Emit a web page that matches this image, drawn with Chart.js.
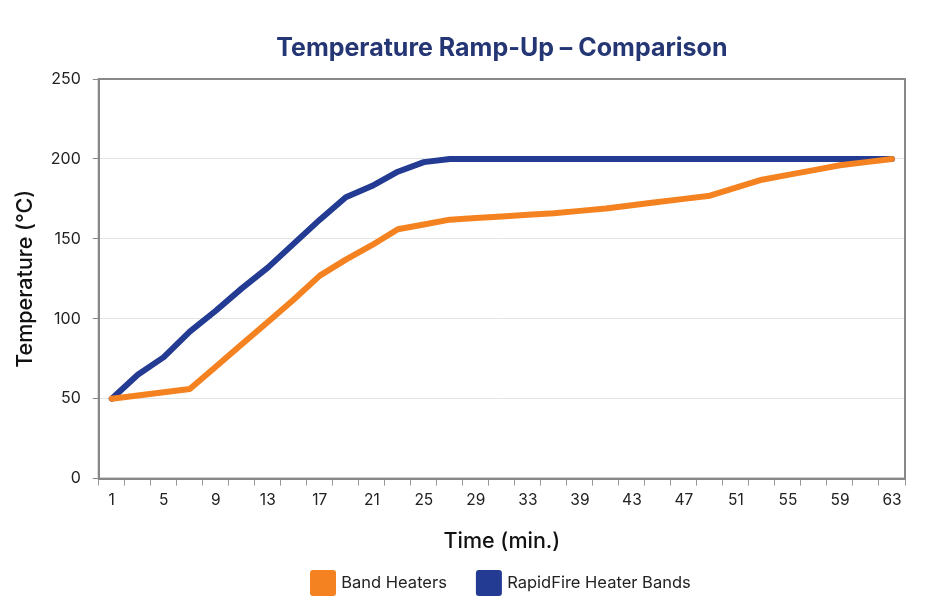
<!DOCTYPE html>
<html>
<head>
<meta charset="utf-8">
<script src="https://cdn.jsdelivr.net/npm/chart.js@4"></script>
<style>
html,body{margin:0;padding:0;background:#fff;}
#wrap{width:930px;height:600px;}
</style>
</head>
<body>
<div id="wrap"><canvas id="c" width="930" height="600"></canvas></div>
<script>
const categories = [1,3,5,7,9,11,13,15,17,19,21,23,25,27,29,31,33,36,39,41,43,45,47,49,51,53,55,57,59,61,63];
const bandHeaters = [50,52,54,56,70,84,98,112,127,137,146,156,159,162,163,164,165,166,167.5,169,171,173,175,177,182,187,190,193,196,198,200];
const rapidFire = [50,65,76,92,105,119,132,147,162,176,183,192,198,200,200,200,200,200,200,200,200,200,200,200,200,200,200,200,200,200,200];
const yTicks = [0,50,100,150,200,250];

const FONT = "Inter, 'Open Sans', sans-serif";

const borderPlugin = {
  id: 'box',
  afterDraw(chart){
    const a = chart.chartArea, ctx = chart.ctx;
    ctx.save();
    ctx.strokeStyle = '#888';
    ctx.lineWidth = 2;
    ctx.strokeRect(a.left, a.top, a.right - a.left, a.bottom - a.top);
    ctx.restore();
  }
};

new Chart(document.getElementById('c'), {
  type: 'line',
  data: {
    labels: categories.map(String),
    datasets: [
      {label:'Band Heaters', data: bandHeaters, borderColor:'#F58220', backgroundColor:'#F58220', borderWidth:6, pointRadius:0, tension:0, borderCapStyle:'round', borderJoinStyle:'round'},
      {label:'RapidFire Heater Bands', data: rapidFire, borderColor:'#233B92', backgroundColor:'#233B92', borderWidth:6, pointRadius:0, tension:0, borderCapStyle:'round', borderJoinStyle:'round'}
    ]
  },
  options: {
    responsive:false,
    animation:false,
    devicePixelRatio:1,
    layout:{padding:{left:13,right:25,top:20,bottom:-3}},
    plugins:{
      title:{display:true, text:'Temperature Ramp-Up – Comparison', color:'#243673', fullSize:false,
        font:{family:FONT, size:25, weight:'bold'}, padding:{top:13,bottom:16}},
      legend:{position:'bottom', fullSize:false,
        labels:{boxWidth:20, boxHeight:20, color:'#222', padding:32, font:{family:FONT, size:16.5}}},
      tooltip:{enabled:false}
    },
    scales:{
      x:{
        type:'category', offset:true,
        grid:{offset:true, drawOnChartArea:false, drawTicks:true, tickLength:7, color:'#999', tickColor:'#999'},
        border:{display:true, color:'#888', width:2},
        ticks:{autoSkip:false, maxRotation:0, color:'#222', padding:5, font:{family:FONT, size:15.5},
          callback:function(v,i){ return i%2===0 ? this.getLabelForValue(v) : ''; }},
        title:{display:true, text:'Time (min.)', color:'#111', font:{family:FONT, size:21.5, weight:'500'}, padding:{top:14,bottom:-13}}
      },
      y:{
        min:0, max:250,
        afterBuildTicks:(s)=>{ s.ticks = yTicks.map(v=>({value:v})); },
        grid:{color:(c)=> (c.tick && (c.tick.value===0 || c.tick.value===250)) ? 'rgba(0,0,0,0)' : '#e3e3e3',
              tickColor:'#888', tickLength:6, lineWidth:1},
        border:{display:true, color:'#888', width:2},
        ticks:{color:'#222', padding:12, font:{family:FONT, size:16}},
        title:{display:true, text:'Temperature (°C)', color:'#111', font:{family:FONT, size:21.5, weight:'500'}, padding:{top:0,bottom:0}}
      }
    }
  },
  plugins:[borderPlugin]
});
</script>
</body>
</html>
